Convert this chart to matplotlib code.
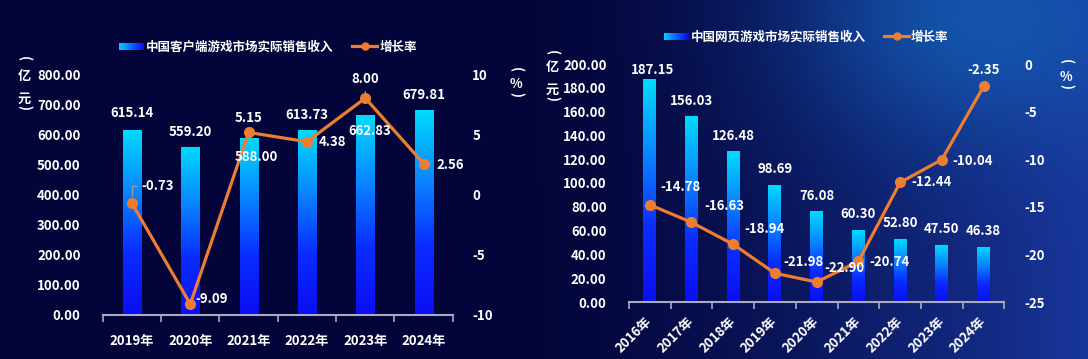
import numpy as np
import matplotlib
matplotlib.use("Agg")
import matplotlib.pyplot as plt
from matplotlib.colors import LinearSegmentedColormap, to_rgb
from matplotlib.patches import Rectangle
from matplotlib.lines import Line2D
from matplotlib.legend_handler import HandlerBase

plt.rcParams['font.family'] = ['Noto Sans CJK SC', 'DejaVu Sans']
plt.rcParams['font.weight'] = 'bold'

# ---- data ----
pc_years = ['2019年', '2020年', '2021年', '2022年', '2023年', '2024年']
pc_revenue = [615.14, 559.20, 588.00, 613.73, 662.83, 679.81]
pc_growth = [-0.73, -9.09, 5.15, 4.38, 8.00, 2.56]

web_years = ['2016年', '2017年', '2018年', '2019年', '2020年',
             '2021年', '2022年', '2023年', '2024年']
web_revenue = [187.15, 156.03, 126.48, 98.69, 76.08, 60.30, 52.80, 47.50, 46.38]
web_growth = [-14.78, -16.63, -18.94, -21.98, -22.90, -20.74, -12.44, -10.04, -2.35]

pc_name = '中国客户端游戏市场实际销售收入'
web_name = '中国网页游戏市场实际销售收入'
rate_name = '增长率'

# label offsets in pixels (dx, dy, ha, leader)
pc_bar_off = [(0, 17), (0, 15), (8, -19), (0, 15), (4, -16), (0, 15)]
pc_line_off = [(9, 17, 'left', 'elbow'), (5, 5, 'left', None), (0, 14, 'center', None),
               (12, 0, 'left', None), (0, 19, 'center', 'up'), (13, -1, 'left', None)]
web_bar_off = [(3, 9), (0, 15), (0, 15), (0, 16), (0, 15), (0, 16), (0, 16), (0, 16), (0, 16)]
web_line_off = [(31, 18), (33, 16), (31, 15), (29, 11), (28, 14),
                (31, -1), (31, 0), (31, -1), (0, 16)]

W, H = 1088, 359
ORANGE = '#ed7d31'
AXIS = '#a9abc4'
LEADER = '#9a9aa6'
bar_cmap = LinearSegmentedColormap.from_list(
    'bars', ['#0a0ef2', '#0a2cff', '#0a86ff', '#00dafb'])
leg_cmap = LinearSegmentedColormap.from_list('leg', ['#00cfff', '#0a60ff', '#0a10ee'])

fig = plt.figure(figsize=(W / 100, H / 100), dpi=100)

# background
xx = np.linspace(0, 1, W)[None, :]
yy = np.linspace(0, 1, H)[:, None]
dark = np.array(to_rgb('#03053a'))
right = np.array(to_rgb('#18369a'))
glow = np.array(to_rgb('#1462ba'))
t = np.clip((xx - 0.48) / 0.52, 0, 1) ** 1.4 * np.ones_like(yy)
img = dark * (1 - t[..., None]) + right * t[..., None]
g = np.exp(-(((xx - 0.9) / 0.16) ** 2 + ((yy - 0.05) / 0.35) ** 2))
img = img * (1 - 0.75 * g[..., None]) + glow * 0.75 * g[..., None]
bg = fig.add_axes([0, 0, 1, 1], zorder=-5)
bg.imshow(img, aspect='auto', extent=[0, 1, 0, 1])
bg.axis('off')


def px(x, y):
    return x / W, 1 - y / H


class GradHandler(HandlerBase):
    def create_artists(self, legend, orig, xd, yd, width, height, fontsize, trans):
        n = 24
        arts = []
        h = height * 0.8
        for i in range(n):
            r = Rectangle((xd + width * i / n, yd + (height - h) / 2), width / n * 1.05, h,
                          facecolor=leg_cmap(i / (n - 1)), edgecolor='none', transform=trans)
            arts.append(r)
        return arts


def gradient_bars(ax, vals, width):
    x = np.arange(len(vals))
    bars = ax.bar(x, vals, width=width, color='none', edgecolor='none')
    grad = np.linspace(1, 0, 100)[:, None]
    for b in bars:
        x0, y0 = b.get_x(), b.get_y()
        im = ax.imshow(grad, cmap=bar_cmap, aspect='auto', vmin=0, vmax=1,
                       extent=[x0, x0 + b.get_width(), y0, y0 + b.get_height()],
                       zorder=2, interpolation='bilinear')
        im.set_clip_path(b)
    return bars


def make_chart(rect, years, revenue, growth, ylim, yticks, yfmt, rlim, rticks,
               bar_off, line_off, name, legend_center, rotate):
    ax = fig.add_axes(rect)
    ax.set_facecolor('none')
    n = len(years)
    gradient_bars(ax, revenue, 0.31)
    ax.set_xlim(-0.5, n - 0.5)
    ax.set_ylim(*ylim)
    ax.set_yticks(yticks)
    ax.set_yticklabels([yfmt % v for v in yticks])
    ax.set_xticks(np.arange(n + 1) - 0.5)
    ax.set_xticklabels([])
    ax.set_xticks(np.arange(n), minor=True)
    if rotate:
        ax.set_xticklabels(years, minor=True, rotation=45, ha='right',
                           rotation_mode='anchor', va='center')
    else:
        ax.set_xticklabels(years, minor=True)
    ax.tick_params(axis='x', which='major', length=5, width=1.2, color=AXIS, direction='out')
    ax.tick_params(axis='x', which='minor', length=0, pad=14 if not rotate else 12,
                   labelsize=9.5, labelcolor='white')
    ax.tick_params(axis='y', length=0, pad=16, labelsize=9.5, labelcolor='white')
    for s in ['top', 'left', 'right']:
        ax.spines[s].set_visible(False)
    ax.spines['bottom'].set_color(AXIS)
    ax.spines['bottom'].set_linewidth(1.5)

    ax2 = ax.twinx()
    ax2.set_ylim(*rlim)
    ax2.set_yticks(rticks)
    ax2.set_yticklabels(['%d' % v for v in rticks])
    ax2.tick_params(axis='y', length=0, pad=14, labelsize=9.5, labelcolor='white')
    for s in ax2.spines.values():
        s.set_visible(False)
    x = np.arange(n)
    ax2.plot(x, growth, color=ORANGE, lw=2.3, marker='o', ms=7, zorder=3)

    for i, v in enumerate(revenue):
        dx, dy = bar_off[i]
        ax2.annotate('%.2f' % v, (i, v), xycoords=ax.transData, textcoords='offset pixels',
                     xytext=(dx, dy), ha='center', va='center', color='white',
                     fontsize=9.5, fontweight='bold', zorder=5)
    for i, v in enumerate(growth):
        off = line_off[i]
        ha = off[2] if len(off) > 2 else 'center'
        leader = off[3] if len(off) > 3 else None
        arrow = None
        if leader == 'elbow':
            arrow = dict(arrowstyle='-', color=LEADER, lw=1,
                         connectionstyle='angle,angleA=0,angleB=90,rad=0',
                         relpos=(0, 0.5), shrinkA=1, shrinkB=5)
        elif leader == 'up':
            arrow = dict(arrowstyle='-', color=LEADER, lw=1, relpos=(0.5, 0),
                         shrinkA=2, shrinkB=4)
        ax2.annotate('%.2f' % v, (i, v), textcoords='offset pixels',
                     xytext=(off[0], off[1]), ha=ha, va='center', color='white',
                     fontsize=9.5, fontweight='bold', zorder=5, arrowprops=arrow)

    handles = [Rectangle((0, 0), 1, 1),
               Line2D([], [], color=ORANGE, lw=2.3, marker='o', ms=5)]
    leg = ax.legend(handles, [name, rate_name], ncol=2, frameon=False,
                    loc='center', bbox_to_anchor=legend_center,
                    bbox_transform=fig.transFigure, fontsize=9,
                    handlelength=2.0, handletextpad=0.15, columnspacing=1.5,
                    handler_map={Rectangle: GradHandler()})
    for txt in leg.get_texts():
        txt.set_color('white')
    return ax, ax2


make_chart([102.8 / W, 1 - 315 / H, 350 / W, 241 / H], pc_years, pc_revenue, pc_growth,
           (0, 800), np.arange(0, 801, 100), '%.2f', (-10, 10), np.arange(-10, 11, 5),
           pc_bar_off, pc_line_off, pc_name, px(268, 47), False)
make_chart([628.8 / W, 1 - 302 / H, 375.7 / W, 238 / H], web_years, web_revenue, web_growth,
           (0, 200), np.arange(0, 201, 20), '%.2f', (-25, 0), np.arange(-25, 1, 5),
           web_bar_off, web_line_off, web_name, px(806, 37), True)


# vertical axis titles
def vlabel(x, ys, chars):
    for y, c in zip(ys, chars):
        if c in '()':
            fig.text(*px(x, y), c, rotation=-90, ha='center', va='center',
                     color='white', fontsize=9.5)
        else:
            fig.text(*px(x, y), c, ha='center', va='center', color='white', fontsize=9.5)


vlabel(24, [59, 76, 99, 107.5], '(亿元)')
vlabel(552, [52, 66.5, 89.5, 98.5], '(亿元)')
vlabel(516, [69.5, 84.5, 94.5], '(%)')
vlabel(1066, [61.7, 77, 86.7], '(%)')

fig.savefig('out.png', dpi=100)
